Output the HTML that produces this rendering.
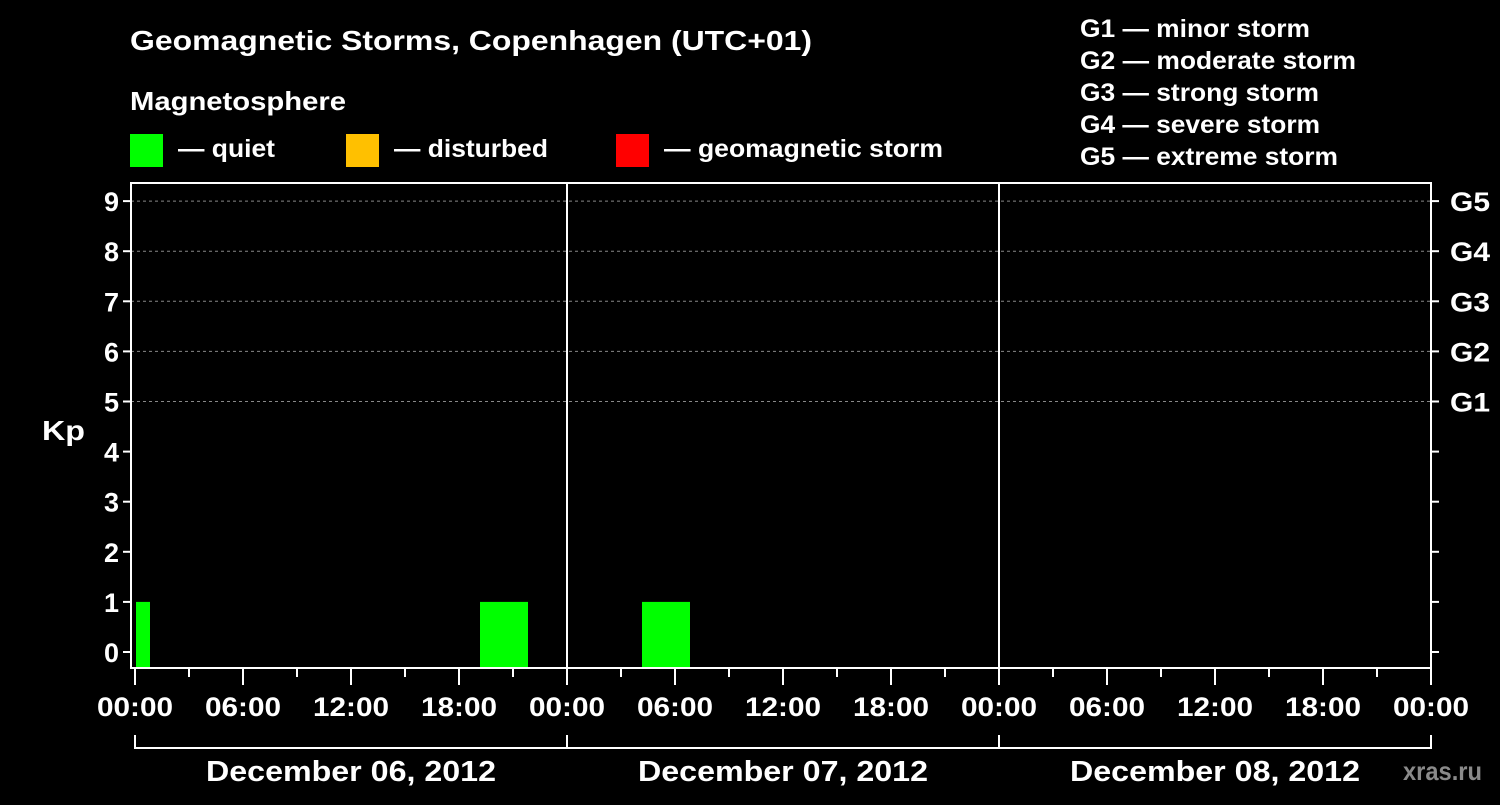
<!DOCTYPE html>
<html><head><meta charset="utf-8"><style>
body{margin:0;background:#000;width:1500px;height:800px;overflow:hidden}
svg text{font-family:"Liberation Sans",sans-serif;font-weight:bold;fill:#fff}
</style></head><body>
<svg id="c" width="1500" height="800">
<text x="130" y="50" font-size="28" textLength="682" lengthAdjust="spacingAndGlyphs">Geomagnetic Storms, Copenhagen (UTC+01)</text>
<text x="130" y="110" font-size="26" textLength="216" lengthAdjust="spacingAndGlyphs">Magnetosphere</text>
<g><rect x="130" y="134" width="33" height="33" fill="#00ff00"/><text x="178" y="157" font-size="25" textLength="97" lengthAdjust="spacingAndGlyphs">— quiet</text></g>
<g><rect x="346" y="134" width="33" height="33" fill="#ffc000"/><text x="394" y="157" font-size="25" textLength="154" lengthAdjust="spacingAndGlyphs">— disturbed</text></g>
<g><rect x="616" y="134" width="33" height="33" fill="#ff0000"/><text x="664" y="157" font-size="25" textLength="279" lengthAdjust="spacingAndGlyphs">— geomagnetic storm</text></g>
<g font-size="25">
<text x="1080" y="37" textLength="230" lengthAdjust="spacingAndGlyphs">G1 — minor storm</text>
<text x="1080" y="69" textLength="276" lengthAdjust="spacingAndGlyphs">G2 — moderate storm</text>
<text x="1080" y="101" textLength="239" lengthAdjust="spacingAndGlyphs">G3 — strong storm</text>
<text x="1080" y="133" textLength="240" lengthAdjust="spacingAndGlyphs">G4 — severe storm</text>
<text x="1080" y="165" textLength="258" lengthAdjust="spacingAndGlyphs">G5 — extreme storm</text>
</g>
<text x="42" y="440" font-size="28" textLength="43" lengthAdjust="spacingAndGlyphs">Kp</text>
<text x="1403" y="780" font-size="26" textLength="79" lengthAdjust="spacingAndGlyphs" style="fill:#8a8a8a">xras.ru</text>
<g id="g"></g>
</svg>
<script>
const kpTimesHours=[-0.5,20.5,29.5];
const kpValues=[1,1,1];
const yTicks=[0,1,2,3,4,5,6,7,8,9];
const gLabels=["G1","G2","G3","G4","G5"];
const gLevels=[5,6,7,8,9];
const dayLabels=["December 06, 2012","December 07, 2012","December 08, 2012"];
const hourLabels=["00:00","06:00","12:00","18:00"];

const NS="http://www.w3.org/2000/svg";
const g=document.getElementById('g');
const L=131,R=1431,T=183,B=668,X0=135,PXH=18;
const x=h=>X0+h*PXH;
const y=v=>652-v*50.1;
function mk(t,a){const e=document.createElementNS(NS,t);for(const k in a)e.setAttribute(k,a[k]);g.appendChild(e);return e;}
gLevels.forEach(v=>{const e=mk('line',{x1:L,x2:R,y1:y(v),y2:y(v),stroke:'#888','stroke-dasharray':'3,3','stroke-width':1});

});
kpTimesHours.forEach((h,i)=>{let x1=Math.max(L+5,x(h)-24),x2=Math.min(R,x(h)+24);
const v=kpValues[i];const col=v<4?'#00ff00':(v<5?'#ffc000':'#ff0000');
const e=mk('rect',{x:x1,y:y(v),width:x2-x1,height:B-y(v),fill:col});

});
[1,2].forEach(d=>{const e=mk('line',{x1:x(24*d),x2:x(24*d),y1:T,y2:B,stroke:'#fff','stroke-width':2});

});
const f=mk('rect',{x:L,y:T,width:R-L,height:B-T,fill:'none',stroke:'#fff','stroke-width':2});


yTicks.forEach(v=>{mk('line',{x1:L-8,x2:L,y1:y(v),y2:y(v),stroke:'#fff','stroke-width':2});
mk('line',{x1:R,x2:R+8,y1:y(v),y2:y(v),stroke:'#fff','stroke-width':2});
const t=mk('text',{x:L-12,y:y(v)+10,'font-size':27,'text-anchor':'end'});t.textContent=v;

});
gLevels.forEach((v,i)=>{const t=mk('text',{x:R+19,y:y(v)+10,'font-size':27,textLength:40,lengthAdjust:'spacingAndGlyphs'});t.textContent=gLabels[i];

});
for(let h=0;h<=72;h+=3){const maj=h%6==0;mk('line',{x1:x(h),x2:x(h),y1:B,y2:B+(maj?17:9),stroke:'#fff','stroke-width':2});
if(maj){const t=mk('text',{x:x(h)-38,y:B+48,'font-size':27,textLength:76,lengthAdjust:'spacingAndGlyphs'});t.textContent=hourLabels[(h/6)%4];

}}
dayLabels.forEach((d,i)=>{const a=x(24*i),b=x(24*i+24);
mk('path',{d:`M${a},735V748H${b}V735`,fill:'none',stroke:'#fff','stroke-width':2});
const t=mk('text',{x:(a+b)/2-145,y:781,'font-size':29,textLength:290,lengthAdjust:'spacingAndGlyphs'});t.textContent=d;

});
</script>
</body></html>
